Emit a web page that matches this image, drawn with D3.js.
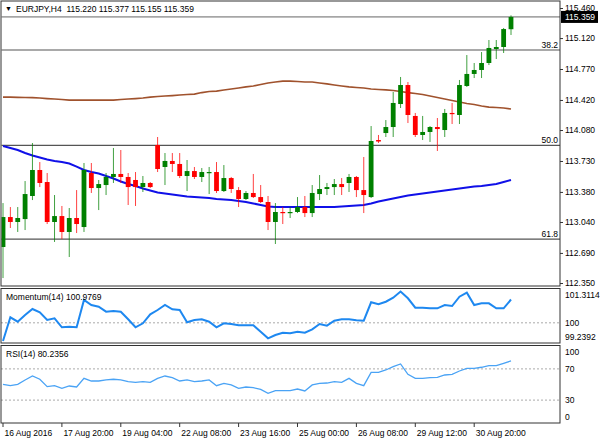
<!DOCTYPE html>
<html>
<head>
<meta charset="utf-8">
<script src="https://cdn.jsdelivr.net/npm/d3@7"></script>
<style>
body { margin: 0; background: #fff; }
svg text { font-family: "Liberation Sans", Arial, sans-serif; font-size: 8.5px; fill: #000; }
</style>
</head>
<body>
<div id="chart"></div>
<script>
var symbol = "EURJPY,H4";

// H4 bars, oldest first
var open = [112.757, 113.096, 113.040, 113.073, 113.334, 113.628, 113.492, 113.040, 113.107, 112.927,
    113.085, 112.983, 113.594, 113.424, 113.458, 113.549, 113.583, 113.549, 113.515, 113.435,
    113.481, 113.911, 113.662, 113.730, 113.696, 113.560, 113.616, 113.549, 113.594, 113.605,
    113.390, 113.537, 113.401, 113.300, 113.368, 113.322, 113.266, 113.040, 113.153, 113.141,
    113.153, 113.209, 113.141, 113.356, 113.413, 113.435, 113.469, 113.481, 113.549, 113.401,
    113.322, 113.967, 114.046, 114.114, 114.374, 114.589, 114.239, 114.024, 114.058, 114.114,
    114.080, 114.273, 114.250, 114.578, 114.714, 114.759, 114.838, 114.996, 115.019, 115.220];
var high = [113.254, 113.209, 113.209, 113.503, 113.933, 113.718, 113.594, 113.345, 113.221, 113.198,
    113.401, 113.707, 113.707, 113.515, 113.594, 113.877, 113.854, 113.594, 113.605, 113.560,
    113.492, 114.001, 113.820, 113.820, 113.820, 113.741, 113.662, 113.650, 113.662, 113.718,
    113.684, 113.549, 113.435, 113.390, 113.583, 113.458, 113.334, 113.254, 113.209, 113.209,
    113.322, 113.334, 113.458, 113.571, 113.481, 113.526, 113.537, 113.583, 113.560, 113.775,
    114.125, 114.024, 114.193, 114.510, 114.680, 114.623, 114.273, 114.239, 114.125, 114.216,
    114.318, 114.386, 114.646, 114.928, 114.838, 114.962, 115.098, 115.098, 115.234, 115.377];
var low = [112.406, 112.972, 112.927, 112.949, 113.288, 113.435, 113.017, 112.814, 112.848, 112.644,
    112.915, 112.927, 113.368, 113.175, 113.345, 113.481, 113.481, 113.232, 113.221, 113.379,
    113.424, 113.605, 113.458, 113.605, 113.537, 113.390, 113.526, 113.492, 113.356, 113.368,
    113.379, 113.368, 113.209, 113.288, 113.311, 113.254, 112.949, 112.791, 113.017, 113.085,
    113.141, 113.096, 113.096, 113.288, 113.345, 113.345, 113.345, 113.379, 113.322, 113.141,
    113.311, 113.933, 114.001, 114.001, 114.329, 114.159, 114.001, 113.967, 113.945, 113.843,
    114.001, 114.148, 114.148, 114.567, 114.668, 114.668, 114.815, 114.883, 114.951, 115.155];
var close = [113.096, 113.040, 113.085, 113.356, 113.628, 113.481, 113.040, 113.107, 112.927, 113.085,
    113.017, 113.628, 113.424, 113.469, 113.549, 113.583, 113.549, 113.435, 113.435, 113.481,
    113.435, 113.639, 113.730, 113.696, 113.560, 113.616, 113.549, 113.605, 113.605, 113.390,
    113.537, 113.413, 113.300, 113.368, 113.322, 113.266, 113.040, 113.153, 113.141, 113.153,
    113.209, 113.141, 113.368, 113.413, 113.435, 113.469, 113.435, 113.549, 113.401, 113.345,
    113.956, 113.950, 114.114, 114.386, 114.589, 114.250, 114.024, 114.058, 114.114, 114.091,
    114.273, 114.261, 114.589, 114.714, 114.759, 114.838, 115.008, 115.019, 115.222, 115.359];

// slow (brown) and fast (blue) moving averages
var maSlow = [114.453, 114.453, 114.450, 114.448, 114.446, 114.442, 114.436, 114.431, 114.425, 114.419,
    114.419, 114.419, 114.419, 114.419, 114.419, 114.419, 114.425, 114.431, 114.436, 114.442,
    114.453, 114.459, 114.465, 114.470, 114.476, 114.482, 114.487, 114.504, 114.516, 114.521,
    114.533, 114.544, 114.555, 114.567, 114.578, 114.595, 114.612, 114.623, 114.634, 114.634,
    114.629, 114.623, 114.623, 114.612, 114.601, 114.589, 114.578, 114.567, 114.561, 114.555,
    114.544, 114.538, 114.533, 114.527, 114.516, 114.504, 114.493, 114.482, 114.465, 114.448,
    114.431, 114.414, 114.397, 114.380, 114.369, 114.352, 114.340, 114.335, 114.329, 114.318];
var maFast = [113.899, 113.877, 113.854, 113.820, 113.792, 113.769, 113.747, 113.730, 113.718, 113.701,
    113.667, 113.628, 113.605, 113.588, 113.560, 113.532, 113.498, 113.469, 113.447, 113.418,
    113.396, 113.373, 113.362, 113.351, 113.339, 113.328, 113.322, 113.317, 113.311, 113.300,
    113.294, 113.288, 113.277, 113.266, 113.249, 113.232, 113.215, 113.209, 113.209, 113.209,
    113.209, 113.209, 113.209, 113.209, 113.209, 113.209, 113.215, 113.221, 113.226, 113.232,
    113.249, 113.271, 113.288, 113.305, 113.322, 113.339, 113.351, 113.362, 113.373, 113.385,
    113.396, 113.407, 113.418, 113.430, 113.441, 113.447, 113.458, 113.469, 113.492, 113.515];

var momentum = [99.2392, 100.231, 100.047, 100.328, 100.579, 100.441, 100.118, 100.190, 99.813, 99.838,
    99.813, 100.956, 100.746, 100.675, 100.466, 100.495, 100.466, 100.148, 99.813, 99.980,
    100.357, 100.537, 100.746, 100.566, 100.537, 100.022, 100.118, 100.148, 100.047, 99.813,
    99.980, 99.951, 99.896, 99.896, 99.896, 99.629, 99.352, 99.490, 99.587, 99.561,
    99.629, 99.587, 99.729, 99.951, 99.880, 100.089, 100.148, 100.148, 100.106, 100.089,
    100.859, 100.776, 100.884, 101.052, 101.3114, 101.027, 100.633, 100.633, 100.608, 100.608,
    100.746, 100.704, 101.094, 101.261, 100.746, 100.817, 100.817, 100.608, 100.608, 100.9769];
var rsi = [50.3, 48.5, 50.3, 55.8, 60.9, 56.7, 47.2, 48.5, 45.1, 48.1,
    46.8, 57.9, 54.5, 54.5, 55.8, 56.7, 55.8, 53.6, 52.8, 53.6,
    52.8, 57.9, 60.9, 58.7, 54.5, 55.8, 53.6, 54.5, 55.8, 48.5,
    51.5, 49.4, 45.1, 46.8, 45.9, 43.8, 38.7, 42.1, 42.1, 42.1,
    44.2, 41.7, 49.4, 51.5, 51.9, 53.6, 52.8, 57.9, 51.5, 48.5,
    65.6, 65.6, 68.6, 72.8, 76.3, 63.1, 57.9, 57.9, 58.7, 59.2,
    62.2, 63.1, 67.3, 70.8, 70.8, 72.1, 74.1, 74.1, 77.2, 80.2356];

var priceTicks = [115.460, 115.120, 114.770, 114.420, 114.080, 113.730, 113.380, 113.040, 112.690, 112.350];
var fibLevels = [114.985, 113.907, 112.847];
var fibNames = ["38.2", "50.0", "61.8"];
var momTicks = [101.3114, 100, 99.2392];
var momTickText = ["101.3114", "100", "99.2392"];
var rsiTicks = [100, 70, 30, 0];
var rsiLevels = [70, 30];
var timeTickIndex = [0, 8, 16, 24, 32, 40, 48, 56, 64];
var timeLabels = ["16 Aug 2016", "17 Aug 20:00", "19 Aug 04:00", "22 Aug 08:00", "23 Aug 16:00",
    "25 Aug 00:00", "26 Aug 08:00", "29 Aug 12:00", "30 Aug 20:00"];

var Width = 600, Height = 443;
var PlotLeft = 1, PlotRight = 560;
var MainTop = 1, MainBottom = 286;
var MomTop = 288.5, MomBottom = 343;
var RsiTop = 345.5, RsiBottom = 423;

var last = close.length - 1;

var x = d3.scaleLinear().domain([0, last]).range([3, 511]);
var yMain = d3.scaleLinear().domain([112.35, 115.46]).range([283, 8]);
var yMom = d3.scaleLinear().domain([99.2392, 101.3114]).range([341, 291.5]);
var yRsi = d3.scaleLinear().domain([0, 100]).range([RsiBottom + 0.5, RsiTop]);

var svg = d3.select("#chart")
    .append("svg")
        .attr("width", Width)
        .attr("height", Height);

svg.append("rect").attr("width", Width).attr("height", Height).attr("fill", "#fff");

svg.append("clipPath").attr("id", "clipMain")
    .append("rect")
        .attr("x", PlotLeft + 0.5).attr("y", MainTop)
        .attr("width", PlotRight - PlotLeft - 0.5).attr("height", MainBottom - MainTop);

var main = svg.append("g").attr("clip-path", "url(#clipMain)");

// bid line and fibo levels
main.append("line")
    .attr("x1", PlotLeft).attr("x2", PlotRight)
    .attr("y1", yMain(close[last])).attr("y2", yMain(close[last]))
    .attr("stroke", "#666").attr("stroke-width", 1);

main.selectAll(".fib")
    .data(fibLevels)
    .enter()
    .append("line")
        .attr("x1", PlotLeft).attr("x2", PlotRight)
        .attr("y1", function(d) { return yMain(d); })
        .attr("y2", function(d) { return yMain(d); })
        .attr("stroke", "#555").attr("stroke-width", 1.2);

main.selectAll(".fibText")
    .data(fibLevels)
    .enter()
    .append("text")
        .attr("x", PlotRight - 2)
        .attr("y", function(d) { return yMain(d) - 2.5; })
        .attr("text-anchor", "end")
        .text(function(d, i) { return fibNames[i]; });

// moving averages
main.append("path")
    .datum(maSlow)
    .attr("fill", "none")
    .attr("stroke", "#a0522d")
    .attr("stroke-width", 1.7)
    .attr("d", d3.line()
        .x(function(d, i) { return x(i); })
        .y(function(d) { return yMain(d); }));

main.append("path")
    .datum(maFast)
    .attr("fill", "none")
    .attr("stroke", "#1010e8")
    .attr("stroke-width", 2)
    .attr("d", d3.line()
        .x(function(d, i) { return x(i); })
        .y(function(d) { return yMain(d); }));

// candles
var idx = d3.range(close.length);
function candleColor(i) { return close[i] >= open[i] ? "#008000" : "#ff0000"; }

main.selectAll(".wick")
    .data(idx)
    .enter()
    .append("line")
        .attr("x1", function(i) { return x(i); })
        .attr("x2", function(i) { return x(i); })
        .attr("y1", function(i) { return yMain(high[i]); })
        .attr("y2", function(i) { return yMain(low[i]); })
        .attr("stroke", candleColor)
        .attr("stroke-opacity", 0.75)
        .attr("stroke-width", 1);

main.selectAll(".body")
    .data(idx)
    .enter()
    .append("rect")
        .attr("x", function(i) { return x(i) - 2.4; })
        .attr("width", 4.8)
        .attr("y", function(i) { return yMain(Math.max(open[i], close[i])); })
        .attr("height", function(i) {
            return Math.max(1.2, Math.abs(yMain(open[i]) - yMain(close[i])));
        })
        .attr("fill", candleColor);

// momentum panel
svg.append("line")
    .attr("x1", PlotLeft).attr("x2", PlotRight)
    .attr("y1", yMom(100)).attr("y2", yMom(100))
    .attr("stroke", "#aaa").attr("stroke-dasharray", "2,2");

svg.append("path")
    .datum(momentum)
    .attr("fill", "none")
    .attr("stroke", "#1e88f0")
    .attr("stroke-width", 2)
    .attr("d", d3.line()
        .x(function(d, i) { return x(i); })
        .y(function(d) { return yMom(d); }));

svg.append("text")
    .attr("x", 6).attr("y", MomTop + 11)
    .text("Momentum(14) " + momentum[last].toFixed(4));

// rsi panel
svg.selectAll(".rsiLevel")
    .data(rsiLevels)
    .enter()
    .append("line")
        .attr("x1", PlotLeft).attr("x2", PlotRight)
        .attr("y1", function(d) { return yRsi(d); })
        .attr("y2", function(d) { return yRsi(d); })
        .attr("stroke", "#aaa").attr("stroke-dasharray", "2,2");

svg.append("path")
    .datum(rsi)
    .attr("fill", "none")
    .attr("stroke", "#4aa3f5")
    .attr("stroke-width", 1.3)
    .attr("d", d3.line()
        .x(function(d, i) { return x(i); })
        .y(function(d) { return yRsi(d); }));

svg.append("text")
    .attr("x", 6).attr("y", RsiTop + 11.5)
    .text("RSI(14) " + rsi[last].toFixed(4));

// panel frames
[[MainTop, MainBottom], [MomTop, MomBottom], [RsiTop, RsiBottom]].forEach(function(p) {
    svg.append("rect")
        .attr("x", PlotLeft).attr("y", p[0])
        .attr("width", PlotRight - PlotLeft).attr("height", p[1] - p[0])
        .attr("fill", "none")
        .attr("stroke", "#333").attr("stroke-width", 1);
});

// title
svg.append("text").attr("x", 5).attr("y", 10.5).style("font-size", "7px").text("\u25BC");
svg.append("text")
    .attr("x", 16).attr("y", 11.5)
    .style("white-space", "pre")
    .text(symbol + "  " + [open[last], high[last], low[last], close[last]]
        .map(function(v) { return v.toFixed(3); }).join(" "));

// price axis
var priceAxis = svg.append("g")
    .attr("transform", "translate(" + PlotRight + ",0)")
    .call(d3.axisRight(yMain)
        .tickValues(priceTicks)
        .tickFormat(d3.format(".3f"))
        .tickSize(3)
        .tickPadding(2));
priceAxis.select(".domain").remove();
priceAxis.attr("font-family", null).attr("font-size", null);
priceAxis.selectAll("line").attr("stroke", "#333");

// current price marker
svg.append("rect")
    .attr("x", PlotRight + 1).attr("y", yMain(close[last]) - 6)
    .attr("width", 37).attr("height", 12)
    .attr("fill", "#000");
svg.append("text")
    .attr("x", PlotRight + 5).attr("y", yMain(close[last]) + 3)
    .style("fill", "#fff")
    .text(close[last].toFixed(3));

// indicator axes, labels kept inside their panel
function clampLabel(y, top, bottom) {
    return Math.min(Math.max(y, top + 6), bottom - 6);
}

svg.selectAll(".momTick")
    .data(momTicks)
    .enter()
    .append("text")
        .attr("x", PlotRight + 5)
        .attr("y", function(d) { return clampLabel(yMom(d), MomTop, MomBottom) + 3; })
        .text(function(d, i) { return momTickText[i]; });

svg.selectAll(".rsiTick")
    .data(rsiTicks)
    .enter()
    .append("text")
        .attr("x", PlotRight + 5)
        .attr("y", function(d) { return clampLabel(yRsi(d), RsiTop, RsiBottom) + 3; })
        .text(function(d) { return d; });

// time axis
svg.selectAll(".timeTick")
    .data(timeTickIndex)
    .enter()
    .append("line")
        .attr("x1", function(d) { return x(d); })
        .attr("x2", function(d) { return x(d); })
        .attr("y1", RsiBottom).attr("y2", RsiBottom + 4)
        .attr("stroke", "#333");

svg.selectAll(".timeLabel")
    .data(timeTickIndex)
    .enter()
    .append("text")
        .attr("x", function(d) { return x(d) + 1.5; })
        .attr("y", RsiBottom + 12.5)
        .text(function(d, i) { return timeLabels[i]; });
</script>
</body>
</html>
